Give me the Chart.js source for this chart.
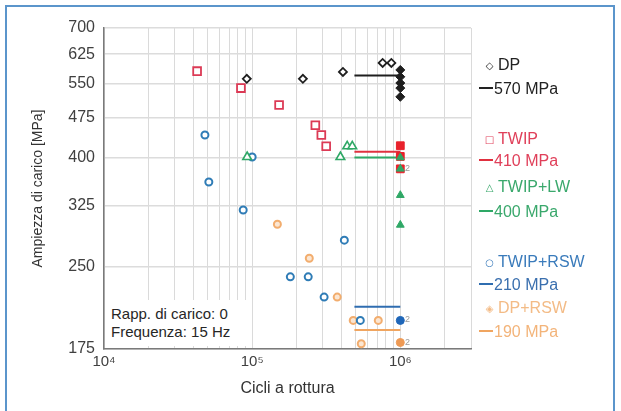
<!DOCTYPE html>
<html>
<head>
<meta charset="utf-8">
<script src="https://cdn.jsdelivr.net/npm/chart.js@4.4.1/dist/chart.umd.min.js"></script>
<style>
html,body{margin:0;padding:0;background:#fff;}
#wrap{position:relative;width:621px;height:411px;overflow:hidden;font-family:"Liberation Sans",Arial,sans-serif;background:#fff;}
#c{position:absolute;left:0;top:0;}
.frame{position:absolute;left:5px;top:5px;width:610px;height:430px;border:2px solid #5b95cb;box-sizing:border-box;pointer-events:none;}
.leg{position:absolute;left:479px;font-size:16px;line-height:18px;white-space:nowrap;transform:translateY(-9px);}
.sym{display:inline-block;width:13px;font-family:"DejaVu Sans",sans-serif;font-size:10px;text-align:center;margin-left:4px;margin-right:2px;vertical-align:1px;}
.dash{display:inline-block;width:14px;height:2px;vertical-align:5px;margin-right:1px;}
.note{position:absolute;left:106px;top:300px;width:146px;height:46px;background:#fff;font-size:15px;line-height:18px;color:#262626;padding:5px 0 0 5px;box-sizing:border-box;}
.tiny{position:absolute;font-size:9px;color:#9a9a9a;}
</style>
</head>
<body>
<div id="wrap">
<canvas id="c" width="621" height="411"></canvas>
<div class="note">Rapp. di carico: 0<br>Frequenza: 15 Hz</div>
<div class="tiny" style="left:405px;top:163px;">2</div>
<div class="tiny" style="left:405px;top:314px;">2</div>
<div class="tiny" style="left:405px;top:337px;">2</div>
<div class="leg" style="top:65px;color:#222"><span class="sym">◇</span>DP</div>
<div class="leg" style="top:89px;color:#222"><span class="dash" style="background:#222"></span>570 MPa</div>
<div class="leg" style="top:139px;color:#e0405a"><span class="sym">□</span>TWIP</div>
<div class="leg" style="top:161px;color:#e0405a"><span class="dash" style="background:#e0303f"></span>410 MPa</div>
<div class="leg" style="top:187px;color:#3aa86c"><span class="sym">△</span>TWIP+LW</div>
<div class="leg" style="top:212px;color:#3aa86c"><span class="dash" style="background:#2ea866"></span>400 MPa</div>
<div class="leg" style="top:262px;color:#3a7bbb"><span class="sym">○</span>TWIP+RSW</div>
<div class="leg" style="top:285px;color:#3a6fae"><span class="dash" style="background:#2f6db0"></span>210 MPa</div>
<div class="leg" style="top:308px;color:#f3bb86"><span class="sym">◈</span>DP+RSW</div>
<div class="leg" style="top:332px;color:#f3b47a"><span class="dash" style="background:#f0a560"></span>190 MPa</div>
<div class="frame"></div>
</div>
<script>
// ---- data ----
const xGridValues = [1e4,2e4,3e4,4e4,5e4,6e4,7e4,8e4,9e4,1e5,2e5,3e5,4e5,5e5,6e5,7e5,8e5,9e5,1e6,2e6,3e6];
const xTickLabels = {10000:'10⁴',100000:'10⁵',1000000:'10⁶'};
const yTicks = [175,250,325,400,475,550,625,700];

const dpCycles = [9.2e4, 2.2e5, 4.1e5, 7.6e5, 8.7e5];
const dpStress = [562, 562, 579, 602, 602];
const dpRunCycles = [1e6, 1e6, 1e6, 1e6, 1e6];
const dpRunStress = [584, 567, 552, 540, 520];

const twipCycles = [4.25e4, 8.4e4, 1.52e5, 2.67e5, 2.93e5, 3.16e5];
const twipStress = [581, 540, 502, 460, 441, 420];
const twipRunCycles = [1e6, 1e6, 1e6];
const twipRunStress = [421, 402, 381];

const lwCycles = [9.25e4, 3.94e5, 4.38e5, 4.74e5];
const lwStress = [401, 401, 420, 420];
const lwRunCycles = [1e6, 1e6, 1e6, 1e6];
const lwRunStress = [400, 381, 340, 299];

const rswCycles = [4.8e4, 1.0e5, 5.1e4, 8.7e4, 1.81e5, 2.39e5, 3.06e5, 4.19e5, 5.37e5];
const rswStress = [441, 401, 360, 319, 239, 239, 219, 280, 198];
const rswRunCycles = [1e6];
const rswRunStress = [198];

const dprswCycles = [1.48e5, 2.43e5, 3.75e5, 4.81e5, 7.1e5, 5.45e5];
const dprswStress = [300, 259, 219, 198, 198, 179];
const dprswRunCycles = [1e6];
const dprswRunStress = [180];

const limitStart = [4.9e5, 4.9e5, 4.9e5, 4.9e5, 4.9e5];
const limitEnd = [1e6, 1e6, 1e6, 1e6, 1e6];
const limitStress = [570, 410, 400, 210, 190];

// ---- build ----
const pts = (xs, ys) => xs.map((x, i) => ({x: x, y: ys[i]}));
const C = {dp:'#1e1e1e', twip:'#dc3a55', twipF:'#e8222c', lw:'#2fa866', rsw:'#2f7cb6', rswF:'#1f66b8', dprsw:'#f2ad6e'};
function mk(data, style, border, bg, r, bw) {
  return {type:'scatter', data:data, pointStyle:style, pointRadius:r, pointBorderColor:border,
          pointBackgroundColor:bg, pointBorderWidth:bw, showLine:false};
}
function limitLine(i, color) {
  return {type:'line', data:[{x:limitStart[i], y:limitStress[i]},{x:limitEnd[i], y:limitStress[i]}],
          borderColor:color, borderWidth:2, pointRadius:0, showLine:true, fill:false};
}
const datasets = [
  mk(pts(dpCycles, dpStress), 'rectRot', C.dp, '#fff', 4, 1.8),
  mk(pts(dpRunCycles, dpRunStress), 'rectRot', C.dp, C.dp, 4.5, 1),
  mk(pts(twipCycles, twipStress), 'rect', C.twip, '#fff', 5.5, 1.8),
  mk(pts(lwRunCycles, lwRunStress), 'triangle', C.lw, C.lw, 4.5, 1),
  mk(pts(twipRunCycles, twipRunStress), 'rect', C.twipF, C.twipF, 5.5, 1),
  mk(pts(lwCycles, lwStress), 'triangle', C.lw, '#fff', 5, 1.6),
  mk(pts(rswCycles, rswStress), 'circle', C.rsw, '#fff', 3.5, 2),
  mk(pts(rswRunCycles, rswRunStress), 'circle', C.rswF, C.rswF, 4, 1),
  mk(pts(dprswCycles, dprswStress), 'circle', C.dprsw, '#fbe6d2', 3.5, 2),
  mk(pts(dprswRunCycles, dprswRunStress), 'circle', '#ee9a55', '#ee9a55', 4, 1),
  limitLine(0, C.dp),
  limitLine(1, '#e0303f'),
  limitLine(2, '#2ea866'),
  limitLine(3, '#2f6db0'),
  limitLine(4, '#f0a560')
];

new Chart(document.getElementById('c'), {
  type: 'scatter',
  data: {datasets: datasets},
  options: {
    responsive: false,
    animation: false,
    devicePixelRatio: 1,
    layout: {padding: {left: 26, right: 150, top: 28, bottom: 8}},
    plugins: {legend: {display: false}, tooltip: {enabled: false}},
    scales: {
      x: {
        type: 'logarithmic', min: 1e4, max: 3e6,
        afterBuildTicks: s => { s.ticks = xGridValues.map(v => ({value: v})); },
        afterFit: s => { s.height = 54; },
        ticks: {
          autoSkip: false, maxRotation: 0, padding: 4,
          font: {family: '"Liberation Sans", Arial, sans-serif', size: 15}, color: '#404040',
          callback: v => xTickLabels[v] || ''
        },
        grid: {color: '#dadada', lineWidth: 1, drawTicks: false},
        border: {color: '#7a7a7a', width: 1.5},
        title: {display: true, text: 'Cicli a rottura', color: '#333',
                font: {family: '"Liberation Sans", Arial, sans-serif', size: 16}, padding: {top: 4, bottom: 5}}
      },
      y: {
        type: 'logarithmic', min: 175, max: 700,
        afterBuildTicks: s => { s.ticks = yTicks.map(v => ({value: v})); },
        afterFit: s => { s.width = 78; },
        ticks: {
          autoSkip: false, padding: 9,
          font: {family: '"Liberation Sans", Arial, sans-serif', size: 16}, color: '#404040',
          callback: v => String(v)
        },
        grid: {color: '#dcdcdc', lineWidth: 1.5, drawTicks: false},
        border: {color: '#7a7a7a', width: 1.5},
        title: {display: true, text: 'Ampiezza di carico [MPa]', color: '#333',
                font: {family: '"Liberation Sans", Arial, sans-serif', size: 14}, padding: {top: 4, bottom: 4}}
      }
    }
  }
});
</script>
</body>
</html>
